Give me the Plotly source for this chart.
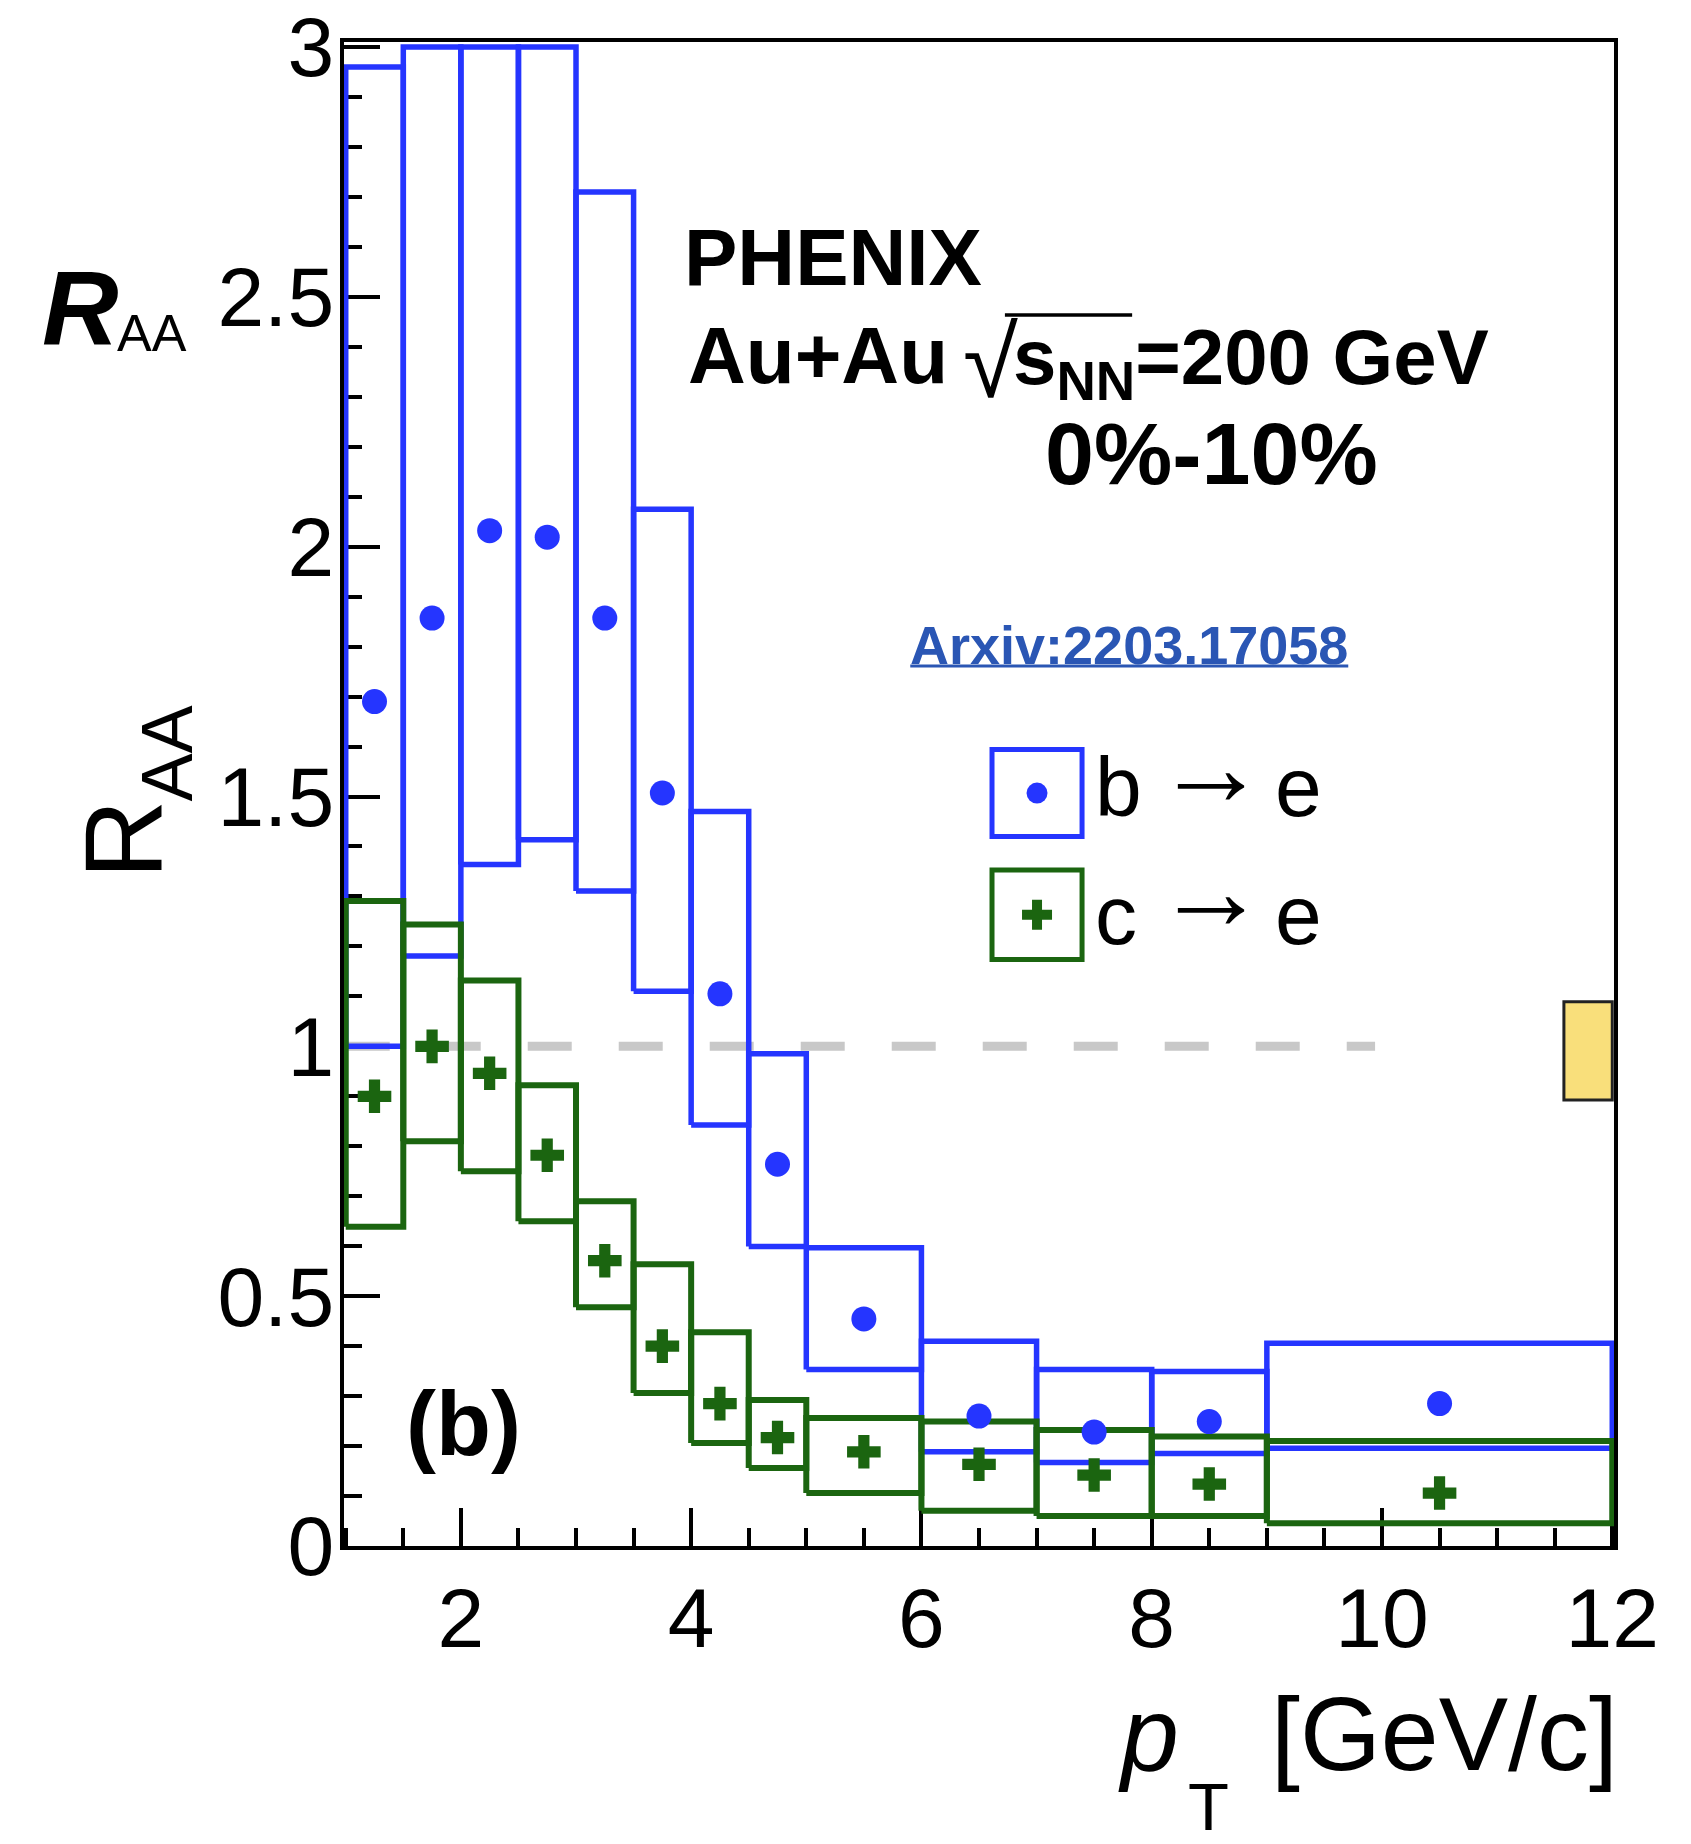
import plotly.graph_objects as go

# ---------------- data ----------------
pt_lo  = [1.0, 1.5, 2.0, 2.5, 3.0, 3.5, 4.0, 4.5, 5.0, 6.0, 7.0, 8.0, 9.0]
pt_hi  = [1.5, 2.0, 2.5, 3.0, 3.5, 4.0, 4.5, 5.0, 6.0, 7.0, 8.0, 9.0, 12.0]
pt_mid = [1.25, 1.75, 2.25, 2.75, 3.25, 3.75, 4.25, 4.75, 5.5, 6.5, 7.5, 8.5, 10.5]

# b -> e
b_raa    = [1.69, 1.857, 2.032, 2.019, 1.857, 1.507, 1.105, 0.764, 0.4545, 0.26, 0.228, 0.249, 0.285]
b_sys_hi = [2.96, 3.0, 3.0, 3.0, 2.71, 2.075, 1.47, 0.985, 0.597, 0.41, 0.353, 0.349, 0.406]
b_sys_lo = [1.0, 1.181, 1.364, 1.4135, 1.311, 1.11, 0.8425, 0.5996, 0.353, 0.1885, 0.167, 0.185, 0.1957]

# c -> e
c_raa    = [0.90, 1.0, 0.946, 0.782, 0.571, 0.40, 0.285, 0.217, 0.1885, 0.1635, 0.142, 0.124, 0.106]
c_sys_hi = [1.291, 1.244, 1.132, 0.922, 0.69, 0.564, 0.428, 0.292, 0.256, 0.249, 0.232, 0.219, 0.21]
c_sys_lo = [0.639, 0.81, 0.75, 0.65, 0.478, 0.306, 0.206, 0.156, 0.106, 0.0706, 0.06, 0.06, 0.0456]

# global normalisation uncertainty box (around 1) and unity line
norm_x = [11.58, 12.0]
norm_y = [0.8925, 1.089]
unity_x = [1.0, 9.94]
unity_y = [1.0, 1.0]

x_tick0, x_dtick = 0, 2
y_tick0, y_dtick = 0, 0.5

BLUE = "#2535ff"
GREEN = "#1b6510"
FONT = "Liberation Sans, Arial, Helvetica, sans-serif"


def rect_path(x0s, x1s, y0s, y1s):
    xs, ys = [], []
    for x0, x1, y0, y1 in zip(x0s, x1s, y0s, y1s):
        xs += [x0, x1, x1, x0, x0, None]
        ys += [y0, y0, y1, y1, y0, None]
    return xs, ys


fig = go.Figure()

# unity reference line
fig.add_trace(go.Scatter(x=unity_x, y=unity_y, mode="lines",
                         line=dict(color="#c8c8c8", width=9, dash="44px,47px"),
                         hoverinfo="skip"))

# systematic boxes
bx, by = rect_path(pt_lo, pt_hi, b_sys_lo, b_sys_hi)
fig.add_trace(go.Scatter(x=bx, y=by, mode="lines", line=dict(color=BLUE, width=5.5),
                         hoverinfo="skip"))
cx, cy = rect_path(pt_lo, pt_hi, c_sys_lo, c_sys_hi)
fig.add_trace(go.Scatter(x=cx, y=cy, mode="lines", line=dict(color=GREEN, width=6),
                         hoverinfo="skip"))

# points
fig.add_trace(go.Scatter(x=pt_mid, y=b_raa, mode="markers", name="b → e",
                         marker=dict(symbol="circle", size=25, color=BLUE, line=dict(width=0))))
fig.add_trace(go.Scatter(x=pt_mid, y=c_raa, mode="markers", name="c → e",
                         marker=dict(symbol="cross", size=28, color=GREEN, line=dict(width=0))))

# legend (drawn inside the frame like the original)
leg_box_x = [6.613, 7.395]
leg_b_y = [1.4197, 1.594]
leg_c_y = [1.174, 1.353]
fig.add_shape(type="rect", xref="x", yref="y", x0=leg_box_x[0], x1=leg_box_x[1],
              y0=leg_b_y[0], y1=leg_b_y[1], line=dict(color=BLUE, width=5))
fig.add_shape(type="rect", xref="x", yref="y", x0=leg_box_x[0], x1=leg_box_x[1],
              y0=leg_c_y[0], y1=leg_c_y[1], line=dict(color=GREEN, width=5))
leg_mx = (leg_box_x[0] + leg_box_x[1]) / 2
fig.add_trace(go.Scatter(x=[leg_mx], y=[(leg_b_y[0] + leg_b_y[1]) / 2], mode="markers",
                         marker=dict(symbol="circle", size=21, color=BLUE), hoverinfo="skip"))
fig.add_trace(go.Scatter(x=[leg_mx], y=[(leg_c_y[0] + leg_c_y[1]) / 2], mode="markers",
                         marker=dict(symbol="cross", size=25, color=GREEN), hoverinfo="skip"))

# normalisation box
fig.add_shape(type="rect", xref="x", yref="y", x0=norm_x[0], x1=norm_x[1],
              y0=norm_y[0], y1=norm_y[1], fillcolor="#f9df7b",
              line=dict(color="#222222", width=3), layer="above")


def ann(text, x, y, size, xanchor="left", yanchor="top", color="black", xref="x", yref="y",
        angle=0):
    fig.add_annotation(text=text, x=x, y=y, xref=xref, yref=yref, showarrow=False,
                       xanchor=xanchor, yanchor=yanchor, textangle=angle,
                       borderpad=0, borderwidth=0,
                       font=dict(family=FONT, size=size, color=color))


ann("<b>PHENIX</b>", 3.938, 2.6686, 80)
ann("<b>Au+Au</b>", 3.975, 2.4718, 80)
ann("√", 6.359, 2.4816, 100)
ann("<b>s<sub>NN</sub>=200 GeV</b>", 6.796, 2.4681, 78)
fig.add_shape(type="line", xref="x", yref="y", x0=6.725, x1=7.83, y0=2.4637, y1=2.4637,
              line=dict(color="black", width=3.5))
ann("<b>0%-10%</b>", 8.52, 2.2858, 88, xanchor="center")
ann("<b>Arxiv:2203.17058</b>", 7.807, 1.8630, 54, xanchor="center", color="#2a56b4")
fig.add_shape(type="line", xref="x", yref="y", x0=5.903, x1=9.707, y0=1.7611, y1=1.7611,
              line=dict(color="#2a56b4", width=3))
# legend labels
ann("b", 7.5034, 1.6122, 84)
ann("c", 7.5034, 1.3575, 84)
ann("<b>→</b>", 8.515, 1.561, 112, xanchor="center", yanchor="middle")
ann("<b>→</b>", 8.515, 1.311, 112, xanchor="center", yanchor="middle")
ann("e", 9.07, 1.6122, 84)
ann("e", 9.07, 1.3575, 84)
ann("<b>(b)</b>", 2.0214, 0.3446, 90, xanchor="center")

# titles outside the frame
ann("<b><i>R</i></b>", -0.2378, 0.8623, 106, xref="paper", yref="paper")
ann("AA", -0.179, 0.8261, 52, xref="paper", yref="paper")
ann("R", -0.1749, 0.470, 110, xanchor="center", yanchor="middle", xref="paper", yref="paper",
    angle=-90)
ann("AA", -0.1396, 0.5268, 72, xanchor="center", yanchor="middle", xref="paper", yref="paper",
    angle=-90)
ann("<i>p</i>", 0.6094, -0.0862, 104, xref="paper", yref="paper")
ann("T", 0.6646, -0.1485, 67, xref="paper", yref="paper")
ann("[GeV/c]", 1.0031, -0.0862, 104, xanchor="right", xref="paper", yref="paper")

fig.update_layout(
    template="none",
    width=1691, height=1844,
    margin=dict(l=344, r=77, t=42, b=298, pad=0),
    paper_bgcolor="white", plot_bgcolor="white",
    showlegend=False,
    font=dict(family=FONT, color="black"),
    xaxis=dict(range=[0.985, 12.015], tickmode="linear", tick0=x_tick0, dtick=x_dtick,
               ticks="inside", ticklen=38, tickwidth=4, tickcolor="black",
               minor=dict(tick0=0, dtick=0.5, ticks="inside", ticklen=18, tickwidth=3.5,
                          tickcolor="black", showgrid=False),
               showline=True, linecolor="black", linewidth=4, mirror=True,
               showgrid=False, zeroline=False, tickfont=dict(size=84, family=FONT),
               ticklabelstandoff=-4, layer="below traces", automargin=False),
    yaxis=dict(range=[0, 3.01], tickmode="linear", tick0=y_tick0, dtick=y_dtick,
               ticks="inside", ticklen=36, tickwidth=4, tickcolor="black",
               minor=dict(tick0=0, dtick=0.1, ticks="inside", ticklen=18, tickwidth=3.5,
                          tickcolor="black", showgrid=False),
               showline=True, linecolor="black", linewidth=4, mirror=True,
               showgrid=False, zeroline=False, tickfont=dict(size=84, family=FONT),
               ticklabelstandoff=-11, layer="below traces", automargin=False),
)

fig.write_html("out.html")
